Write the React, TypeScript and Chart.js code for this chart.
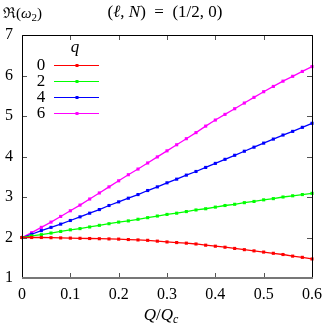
import React, { useEffect, useRef } from "react";
import { Chart, registerables } from "chart.js";

Chart.register(...registerables);

const xs = [0, 0.02, 0.04, 0.06, 0.08, 0.1, 0.12, 0.14, 0.16, 0.18, 0.2, 0.22, 0.24, 0.26, 0.28, 0.3, 0.32, 0.34, 0.36, 0.38, 0.4, 0.42, 0.44, 0.46, 0.48, 0.5, 0.52, 0.54, 0.56, 0.58, 0.6];

const q0 = [2.0, 2.0, 2.0, 1.995, 1.99, 1.985, 1.98, 1.975, 1.97, 1.965, 1.96, 1.95, 1.94, 1.93, 1.91, 1.89, 1.875, 1.86, 1.84, 1.81, 1.785, 1.76, 1.73, 1.7, 1.67, 1.64, 1.61, 1.58, 1.54, 1.51, 1.47];
const q2 = [2.0, 2.04, 2.07, 2.11, 2.15, 2.19, 2.22, 2.26, 2.3, 2.34, 2.38, 2.41, 2.45, 2.49, 2.53, 2.57, 2.6, 2.64, 2.68, 2.71, 2.75, 2.79, 2.82, 2.86, 2.89, 2.93, 2.96, 3.0, 3.03, 3.06, 3.09];
const q4 = [2.0, 2.08, 2.17, 2.25, 2.33, 2.42, 2.51, 2.6, 2.69, 2.79, 2.88, 2.97, 3.06, 3.16, 3.25, 3.35, 3.44, 3.54, 3.63, 3.73, 3.83, 3.93, 4.03, 4.13, 4.23, 4.33, 4.43, 4.53, 4.62, 4.72, 4.82];
const q6 = [2.0, 2.12, 2.25, 2.38, 2.52, 2.66, 2.8, 2.95, 3.1, 3.25, 3.4, 3.55, 3.69, 3.84, 3.99, 4.14, 4.29, 4.44, 4.59, 4.75, 4.9, 5.04, 5.18, 5.32, 5.46, 5.6, 5.73, 5.86, 5.98, 6.1, 6.22];

const seriesLabels = ["0", "2", "4", "6"];
const seriesColors = ["#ff0000", "#00ff00", "#0000ff", "#ff00ff"];
const seriesValues = [q0, q2, q4, q6];

const xTicks = [0, 0.1, 0.2, 0.3, 0.4, 0.5, 0.6];
const yTicks = [1, 2, 3, 4, 5, 6, 7];

const SERIF = "'Liberation Serif', 'DejaVu Serif', serif";

type Seg = { t: string; italic?: boolean; size?: number; dy?: number };

function drawSegs(ctx: CanvasRenderingContext2D, segs: Seg[], cx: number, y: number, base: number, align: "center" | "left") {
  const fontFor = (s: Seg) => `${s.italic ? "italic " : ""}${s.size ?? base}px ${SERIF}`;
  let total = 0;
  for (const s of segs) {
    ctx.font = fontFor(s);
    total += ctx.measureText(s.t).width;
  }
  let x = align === "center" ? cx - total / 2 : cx;
  ctx.textAlign = "left";
  ctx.textBaseline = "middle";
  for (const s of segs) {
    ctx.font = fontFor(s);
    ctx.fillText(s.t, x, y + (s.dy ?? 0));
    x += ctx.measureText(s.t).width;
  }
}

const decorPlugin = {
  id: "decor",
  afterDatasetsDraw(chart: any) {
    const ctx: CanvasRenderingContext2D = chart.ctx;
    const { left, right, top, bottom } = chart.chartArea;
    const xs_ = chart.scales.x;
    const ys_ = chart.scales.y;
    ctx.save();
    ctx.strokeStyle = "#555";
    ctx.lineWidth = 1;
    const tl = 5;
    ctx.beginPath();
    for (const v of xTicks) {
      const px = Math.round(xs_.getPixelForValue(v)) + 0.5;
      ctx.moveTo(px, bottom);
      ctx.lineTo(px, bottom - tl);
      ctx.moveTo(px, top);
      ctx.lineTo(px, top + tl);
    }
    for (const v of yTicks) {
      const py = Math.round(ys_.getPixelForValue(v)) + 0.5;
      ctx.moveTo(left, py);
      ctx.lineTo(left + tl, py);
      ctx.moveTo(right, py);
      ctx.lineTo(right - tl, py);
    }
    ctx.stroke();
    ctx.strokeStyle = "#000";
    ctx.beginPath();
    ctx.moveTo(Math.round(left) + 0.5, Math.round(bottom));
    ctx.lineTo(Math.round(left) + 0.5, Math.round(top) + 0.5);
    ctx.lineTo(Math.round(right) + 0.5, Math.round(top) + 0.5);
    ctx.lineTo(Math.round(right) + 0.5, Math.round(bottom));
    ctx.stroke();
    ctx.strokeStyle = "#777";
    ctx.lineWidth = 2;
    ctx.beginPath();
    ctx.moveTo(left, Math.round(bottom));
    ctx.lineTo(right + 1, Math.round(bottom));
    ctx.stroke();

    ctx.fillStyle = "#000";
    drawSegs(ctx, [{ t: "q", italic: true }], 75, 48, 17, "center");
    for (let i = 0; i < seriesLabels.length; i++) {
      const y = 65 + i * 16;
      ctx.fillStyle = "#000";
      ctx.font = `17px ${SERIF}`;
      ctx.textAlign = "center";
      ctx.textBaseline = "middle";
      ctx.fillText(seriesLabels[i], 41, y + 1);
      ctx.strokeStyle = seriesColors[i];
      ctx.lineWidth = 1.2;
      ctx.beginPath();
      ctx.moveTo(54, y + 0.5);
      ctx.lineTo(99, y + 0.5);
      ctx.stroke();
      ctx.fillStyle = seriesColors[i];
      ctx.fillRect(75.5, y - 1, 3, 3);
    }

    ctx.fillStyle = "#000";
    drawSegs(ctx, [{ t: "ℜ(" }, { t: "ω", italic: true }, { t: "2", size: 11, dy: 4 }, { t: ")" }], 3, 14, 15, "left");
    drawSegs(
      ctx,
      [{ t: "(" }, { t: "ℓ", italic: true }, { t: ", " }, { t: "N", italic: true }, { t: ")  =  (1/2, 0)" }],
      165,
      13,
      17,
      "center"
    );
    drawSegs(
      ctx,
      [{ t: "Q", italic: true }, { t: "/" }, { t: "Q", italic: true }, { t: "c", italic: true, size: 12, dy: 4 }],
      161,
      316,
      17,
      "center"
    );
    ctx.restore();
  },
};

export default function App() {
  const ref = useRef<HTMLCanvasElement | null>(null);
  useEffect(() => {
    if (!ref.current) return;
    const chart = new Chart(ref.current, {
      type: "line",
      data: {
        datasets: seriesValues.map((vals, i) => ({
          label: seriesLabels[i],
          data: xs.map((x, j) => ({ x, y: vals[j] })),
          borderColor: seriesColors[i],
          backgroundColor: seriesColors[i],
          borderWidth: 1.3,
          pointStyle: "rect",
          pointRadius: 2.2,
          pointBorderWidth: 0,
          pointHoverRadius: 2.2,
          tension: 0,
          clip: false as any,
        })),
      },
      options: {
        animation: false,
        responsive: false,
        events: [],
        layout: { padding: { top: 35, right: 17, left: 0, bottom: 0 } },
        plugins: {
          legend: { display: false },
          title: { display: false },
          tooltip: { enabled: false },
        },
        scales: {
          x: {
            type: "linear",
            min: 0,
            max: 0.6,
            afterFit: (s: any) => {
              s.height = 51;
            },
            afterBuildTicks: (s: any) => {
              s.ticks = xTicks.map((v) => ({ value: v }));
            },
            grid: { display: false, drawTicks: false },
            border: { display: false },
            ticks: {
              padding: 7,
              color: "#000",
              font: { family: SERIF, size: 16 },
              maxRotation: 0,
              autoSkip: false,
              callback: (v: any) => String(Number(Number(v).toFixed(1))),
            },
          },
          y: {
            type: "linear",
            min: 1,
            max: 7,
            afterFit: (s: any) => {
              s.width = 22;
            },
            afterBuildTicks: (s: any) => {
              s.ticks = yTicks.map((v) => ({ value: v }));
            },
            grid: { display: false, drawTicks: false },
            border: { display: false },
            ticks: {
              padding: 9,
              color: "#000",
              font: { family: SERIF, size: 16 },
              autoSkip: false,
              callback: (v: any) => String(v),
            },
          },
        },
      },
      plugins: [decorPlugin],
    });
    return () => chart.destroy();
  }, []);
  return (
    <div style={{ position: "fixed", left: 0, top: 0, width: 329, height: 329, background: "#fff" }}>
      <canvas ref={ref} width={329} height={329} style={{ width: 329, height: 329, display: "block" }} />
    </div>
  );
}
